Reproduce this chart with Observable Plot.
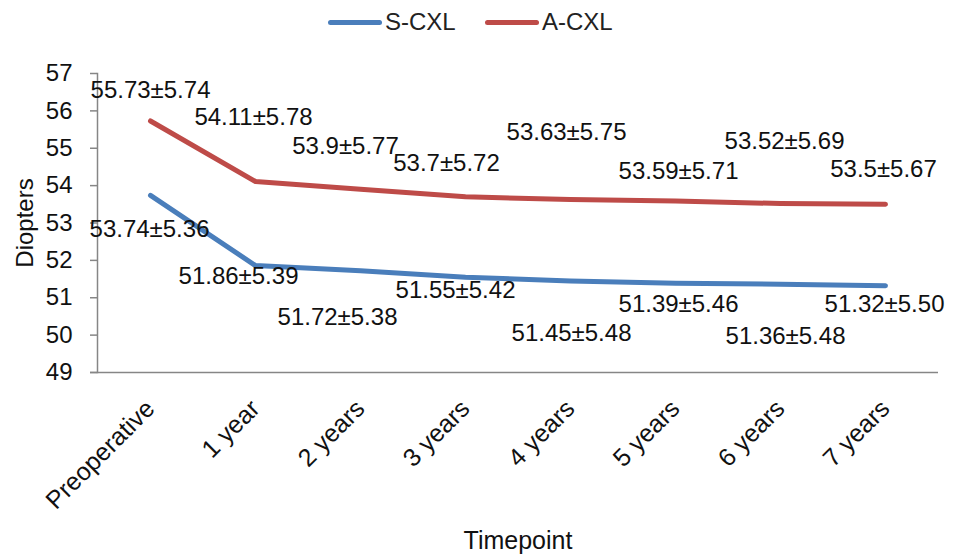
<!DOCTYPE html>
<html>
<head>
<meta charset="utf-8">
<script src="https://cdn.jsdelivr.net/npm/d3@7"></script>
<script src="https://cdn.jsdelivr.net/npm/@observablehq/plot@0.6"></script>
<style>
  html, body { margin: 0; padding: 0; background: #fff; }
  body { width: 953px; height: 554px; overflow: hidden; font-family: "Liberation Sans", Arial, sans-serif; }
  #legend { height: 45px; position: relative; font-size: 24px; color: #222; }
  .item { position: absolute; top: 8px; display: flex; align-items: center; height: 28px; }
  .swatch { width: 54px; height: 5px; border-radius: 3px; margin-right: 3px; }
</style>
</head>
<body>
<div id="legend"></div>
<div id="chart"></div>
<script>
const timepoints = ["Preoperative", "1 year", "2 years", "3 years", "4 years", "5 years", "6 years", "7 years"];
const seriesNames = ["S-CXL", "A-CXL"];
const sMean = [53.74, 51.86, 51.72, 51.55, 51.45, 51.39, 51.36, 51.32];
const sSD   = ["5.36", "5.39", "5.38", "5.42", "5.48", "5.46", "5.48", "5.50"];
const aMean = [55.73, 54.11, 53.9, 53.7, 53.63, 53.59, 53.52, 53.5];
const aSD   = ["5.74", "5.78", "5.77", "5.72", "5.75", "5.71", "5.69", "5.67"];
const yTicks = [49, 50, 51, 52, 53, 54, 55, 56, 57];
const colors = ["#4A7EBB", "#BE4B48"];

// label placement offsets (px) relative to each point, as in the original
const sLabelDx = [-1, -17, -23, -10, 1, 3, 5, -1];
const sLabelDy = [34, 11, 46, 13, 52, 21, 52, 19];
const aLabelDx = [0, -2, -15, -19, -4, 3, 4, -2];
const aLabelDy = [-31, -64, -43, -34, -67, -30, -62, -35];

const rows = [];
timepoints.forEach((t, i) => {
  rows.push({series: "S-CXL", t, v: sMean[i], label: `${sMean[i]}±${sSD[i]}`, dx: sLabelDx[i], dy: sLabelDy[i]});
});
timepoints.forEach((t, i) => {
  rows.push({series: "A-CXL", t, v: aMean[i], label: `${aMean[i]}±${aSD[i]}`, dx: aLabelDx[i], dy: aLabelDy[i]});
});

// legend
const legend = document.getElementById("legend");
const legendLeft = [328, 485];
seriesNames.forEach((s, i) => {
  const d = document.createElement("div");
  d.className = "item";
  d.style.left = legendLeft[i] + "px";
  d.innerHTML = `<span class="swatch" style="background:${colors[i]}"></span><span>${s}</span>`;
  legend.appendChild(d);
});

const labelMarks = rows.map(r => Plot.text([r], {
  x: "t", y: "v", text: "label", dx: r.dx, dy: r.dy,
  fill: "#111", fontSize: 24
}));

const chart = Plot.plot({
  width: 953,
  height: 509,
  marginLeft: 97,
  marginRight: 15,
  marginTop: 28,
  marginBottom: 182,
  style: {fontFamily: "'Liberation Sans', Arial, sans-serif", fontSize: "24px", color: "#111", background: "#fff"},
  x: {type: "point", domain: timepoints, padding: 0.5},
  y: {domain: [49, 57]},
  color: {domain: seriesNames, range: colors},
  marks: [
    Plot.frame({anchor: "left", stroke: "#868686", strokeWidth: 1.5}),
    Plot.ruleY([49], {stroke: "#868686", strokeWidth: 1.5, insetLeft: -7}),
    Plot.axisY({ticks: yTicks, tickSize: 7, tickPadding: 18, stroke: "#868686", strokeWidth: 1.5, fontSize: 24, fill: "#111",
      label: "Diopters", labelAnchor: "center", labelArrow: "none", labelOffset: 82}),
    Plot.axisX({tickSize: 0, tickRotate: -45, tickPadding: 32, fontSize: 25, fill: "#111",
      label: "Timepoint", labelAnchor: "center", labelArrow: "none", labelOffset: 176}),
    Plot.line(rows, {x: "t", y: "v", z: "series", stroke: "series", strokeWidth: 5, strokeLinejoin: "round", strokeLinecap: "round"}),
    ...labelMarks
  ]
});
document.getElementById("chart").appendChild(chart);
</script>
</body>
</html>
